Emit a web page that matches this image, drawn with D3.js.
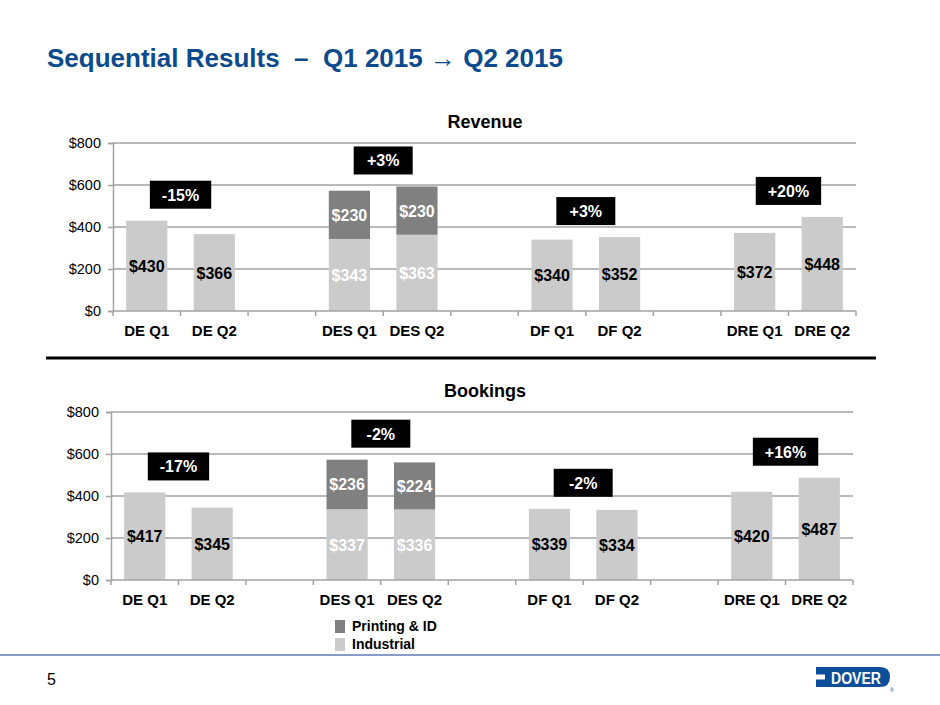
<!DOCTYPE html>
<html>
<head>
<meta charset="utf-8">
<script src="https://cdn.jsdelivr.net/npm/d3@7/dist/d3.min.js"></script>
<style>
  body { margin: 0; background: #fff; }
  svg { font-family: "Liberation Sans", Arial, sans-serif; }
</style>
</head>
<body>
<svg id="chart" width="940" height="705"></svg>
<script>
// ---- data ----
const categories = ["DE Q1", "DE Q2", "", "DES Q1", "DES Q2", " ", "DF Q1", "DF Q2", "  ", "DRE Q1", "DRE Q2"];
const revenueIndustrial = [430, 366, null, 343, 363, null, 340, 352, null, 372, 448];
const revenuePrinting   = [null, null, null, 230, 230, null, null, null, null, null, null];
const bookingsIndustrial = [417, 345, null, 337, 336, null, 339, 334, null, 420, 487];
const bookingsPrinting   = [null, null, null, 236, 224, null, null, null, null, null, null];
const revenueChanges  = [["DE Q1","DE Q2","-15%"],["DES Q1","DES Q2","+3%"],["DF Q1","DF Q2","+3%"],["DRE Q1","DRE Q2","+20%"]];
const bookingsChanges = [["DE Q1","DE Q2","-17%"],["DES Q1","DES Q2","-2%"],["DF Q1","DF Q2","-2%"],["DRE Q1","DRE Q2","+16%"]];
const yTicks = [0, 200, 400, 600, 800];
const seriesNames = ["Printing & ID", "Industrial"];

const colors = { industrial: "#cbcbcb", printing: "#808080", grid: "#a3a3a3", title: "#0b4a8c" };

const svg = d3.select("#chart");

// title
svg.append("text").attr("x", 47).attr("y", 67)
  .attr("font-size", 26).attr("font-weight", "bold").attr("fill", colors.title)
  .attr("xml:space", "preserve")
  .text("Sequential Results  \u2013  Q1 2015 \u2192 Q2 2015");

function drawChart(cfg) {
  const g = svg.append("g");
  const x = d3.scaleBand().domain(categories).range([cfg.left, cfg.right]).paddingInner(0).paddingOuter(0);
  const y = d3.scaleLinear().domain([0, 800]).range([cfg.bottom, cfg.top]);
  const bw = x.bandwidth() * 0.61;

  // title
  g.append("text").attr("x", 485).attr("y", cfg.top - 15)
    .attr("text-anchor", "middle").attr("font-size", 18).attr("font-weight", "bold")
    .text(cfg.title);

  // gridlines
  g.selectAll(".grid").data(yTicks.filter(d => d > 0)).join("line")
    .attr("x1", cfg.left).attr("x2", cfg.right)
    .attr("y1", d => y(d)).attr("y2", d => y(d))
    .attr("stroke", colors.grid).attr("stroke-width", 1.5);

  // y axis
  const yAxis = g.append("g").attr("transform", `translate(${cfg.left},0)`)
    .call(d3.axisLeft(y).tickValues(yTicks).tickFormat(d => "$" + d).tickSize(5).tickPadding(7));
  yAxis.select(".domain").attr("stroke", colors.grid).attr("stroke-width", 1.5);
  yAxis.selectAll(".tick line").attr("stroke", colors.grid).attr("stroke-width", 1.5);
  yAxis.selectAll(".tick text").attr("font-size", 14.5).attr("fill", "#000")
    .attr("font-family", "Liberation Sans, Arial, sans-serif");

  // bars industrial
  const idx = d3.range(categories.length);
  g.selectAll(".ind").data(idx.filter(i => cfg.ind[i] != null)).join("rect")
    .attr("x", i => x(categories[i]) + (x.bandwidth() - bw) / 2)
    .attr("width", bw)
    .attr("y", i => y(cfg.ind[i]))
    .attr("height", i => y(0) - y(cfg.ind[i]))
    .attr("fill", colors.industrial);
  g.selectAll(".prt").data(idx.filter(i => cfg.prt[i] != null)).join("rect")
    .attr("x", i => x(categories[i]) + (x.bandwidth() - bw) / 2)
    .attr("width", bw)
    .attr("y", i => y(cfg.ind[i] + cfg.prt[i]))
    .attr("height", i => y(cfg.ind[i]) - y(cfg.ind[i] + cfg.prt[i]))
    .attr("fill", colors.printing);

  // x axis
  const xAxis = g.append("g").attr("transform", `translate(0,${cfg.bottom})`);
  xAxis.append("line").attr("x1", cfg.left).attr("x2", cfg.right)
    .attr("y1", 0).attr("y2", 0).attr("stroke", colors.grid).attr("stroke-width", 1.5);
  const edges = categories.map(c => x(c)).concat([x(categories[categories.length - 1]) + x.bandwidth()]);
  xAxis.selectAll(".xt").data(edges).join("line")
    .attr("x1", d => d).attr("x2", d => d).attr("y1", 0).attr("y2", 5)
    .attr("stroke", colors.grid).attr("stroke-width", 1.5);
  xAxis.selectAll(".xl").data(categories.filter(c => c.trim() !== "")).join("text")
    .attr("x", c => x(c) + x.bandwidth() / 2).attr("y", 24.5)
    .attr("text-anchor", "middle").attr("font-size", 15).attr("font-weight", "bold")
    .text(c => c);

  // value labels
  g.selectAll(".indl").data(idx.filter(i => cfg.ind[i] != null)).join("text")
    .attr("x", i => x(categories[i]) + x.bandwidth() / 2)
    .attr("y", i => (y(0) + y(cfg.ind[i])) / 2 + 6)
    .attr("text-anchor", "middle").attr("font-size", 16).attr("font-weight", "bold")
    .attr("fill", i => cfg.prt[i] != null ? "#fff" : "#000")
    .text(i => "$" + cfg.ind[i]);
  g.selectAll(".prtl").data(idx.filter(i => cfg.prt[i] != null)).join("text")
    .attr("x", i => x(categories[i]) + x.bandwidth() / 2)
    .attr("y", i => (y(cfg.ind[i]) + y(cfg.ind[i] + cfg.prt[i])) / 2 + 6)
    .attr("text-anchor", "middle").attr("font-size", 16).attr("font-weight", "bold")
    .attr("fill", "#fff")
    .text(i => "$" + cfg.prt[i]);

  // change callouts
  cfg.changes.forEach(([a, b, label]) => {
    const ia = categories.indexOf(a), ib = categories.indexOf(b);
    const total = i => cfg.ind[i] + (cfg.prt[i] || 0);
    const top = Math.max(total(ia), total(ib));
    const cx = x(b);
    const cy = y(top) - 26;
    const h = 28;
    const box = g.append("rect").attr("fill", "#000");
    const t = g.append("text").attr("x", cx).attr("y", cy + 6).attr("text-anchor", "middle")
      .attr("font-size", 16).attr("font-weight", "bold").attr("fill", "#fff").text(label);
    const w = Math.max(59, t.node().getComputedTextLength() + 24);
    box.attr("x", cx - w / 2).attr("y", cy - h / 2).attr("width", w).attr("height", h);
  });
}

drawChart({ title: "Revenue", left: 113, right: 856, top: 143, bottom: 311,
  ind: revenueIndustrial, prt: revenuePrinting, changes: revenueChanges });
drawChart({ title: "Bookings", left: 111, right: 853, top: 412, bottom: 580,
  ind: bookingsIndustrial, prt: bookingsPrinting, changes: bookingsChanges });

// divider
svg.append("line").attr("x1", 46).attr("x2", 876).attr("y1", 358).attr("y2", 358)
  .attr("stroke", "#000").attr("stroke-width", 3);

// legend
const legendColors = [colors.printing, colors.industrial];
const lg = svg.append("g");
seriesNames.forEach((n, i) => {
  lg.append("rect").attr("x", 335).attr("y", 620 + i * 18).attr("width", 10).attr("height", 13).attr("fill", legendColors[i]);
  lg.append("text").attr("x", 352).attr("y", 631 + i * 18).attr("font-size", 14).attr("font-weight", "bold").text(n);
});

// footer
svg.append("line").attr("x1", 0).attr("x2", 940).attr("y1", 655).attr("y2", 655)
  .attr("stroke", "#8a9cc6").attr("stroke-width", 2);
svg.append("text").attr("x", 47).attr("y", 685).attr("font-size", 16).text("5");

// logo
const logo = svg.append("g");
logo.append("path")
  .attr("d", "M816,667 H880 Q890,667 890,677 Q890,687 880,687 H816 Z")
  .attr("fill", "#0d4e9a");
logo.append("rect").attr("x", 816).attr("y", 674.5).attr("width", 9).attr("height", 5).attr("fill", "#fff");
logo.append("text").attr("x", 831).attr("y", 684)
  .attr("font-size", 16).attr("font-weight", "bold").attr("fill", "#fff")
  .attr("textLength", 50).attr("lengthAdjust", "spacingAndGlyphs")
  .text("DOVER");
logo.append("text").attr("x", 890).attr("y", 692).attr("font-size", 5).attr("fill", "#0d4e9a").text("®");
</script>
</body>
</html>
